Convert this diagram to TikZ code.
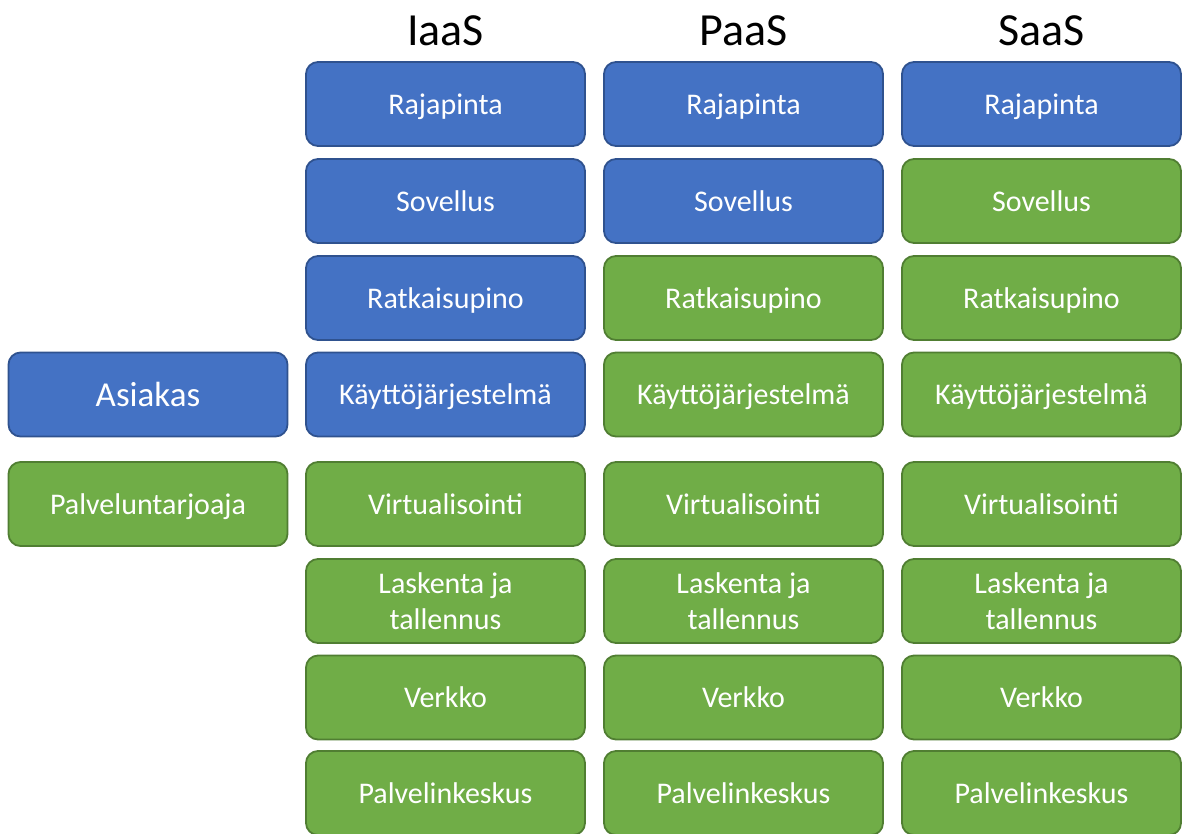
\documentclass[tikz,border=0pt]{standalone}
\usepackage{fontspec}
\setmainfont{Carlito}
\definecolor{bfill}{HTML}{4472C4}
\definecolor{bline}{HTML}{2F528F}
\definecolor{gfill}{HTML}{70AD47}
\definecolor{gline}{HTML}{507E32}
\tikzset{
  tile/.style={rectangle, rounded corners=12pt, line width=1.8pt, minimum width=279pt, minimum height=84pt, inner sep=0pt, text=white, font=\fontsize{30}{36}\selectfont, align=center},
  oneline/.style={text height=20pt, text depth=0pt},
  bluetile/.style={tile, fill=bfill, draw=bline},
  greentile/.style={tile, fill=gfill, draw=gline},
  head/.style={anchor=base, font=\fontsize{46}{50}\selectfont}
}
\begin{document}
\begin{tikzpicture}[x=1pt,y=-1pt]
\useasboundingbox (0,0) rectangle (1186,833);
% headers
\node[head] (hI) at (445.5,45) {IaaS};
\node[head] (hP) at (743.5,45) {PaaS};
\node[head] (hS) at (1041.5,45) {SaaS};
% left legend
\node[bluetile, oneline, text height=23pt, font=\fontsize{35}{40}\selectfont] (asiakas) at (148,394.5) {Asiakas};
\node[greentile, oneline] (palv) at (148,504) {Palveluntarjoaja};
% IaaS
\node[bluetile, oneline] (i1) at (445.5,104) {Rajapinta};
\node[bluetile, oneline] (i2) at (445.5,201) {Sovellus};
\node[bluetile, oneline] (i3) at (445.5,298) {Ratkaisupino};
\node[bluetile, oneline] (i4) at (445.5,394.5) {Käyttöjärjestelmä};
\node[greentile, oneline] (i5) at (445.5,504) {Virtualisointi};
\node[greentile] (i6) at (445.5,601) {Laskenta ja\\tallennus};
\node[greentile, oneline] (i7) at (445.5,697.5) {Verkko};
\node[greentile, oneline] (i8) at (445.5,793) {Palvelinkeskus};
% PaaS
\node[bluetile, oneline] (p1) at (743.5,104) {Rajapinta};
\node[bluetile, oneline] (p2) at (743.5,201) {Sovellus};
\node[greentile, oneline] (p3) at (743.5,298) {Ratkaisupino};
\node[greentile, oneline] (p4) at (743.5,394.5) {Käyttöjärjestelmä};
\node[greentile, oneline] (p5) at (743.5,504) {Virtualisointi};
\node[greentile] (p6) at (743.5,601) {Laskenta ja\\tallennus};
\node[greentile, oneline] (p7) at (743.5,697.5) {Verkko};
\node[greentile, oneline] (p8) at (743.5,793) {Palvelinkeskus};
% SaaS
\node[bluetile, oneline] (s1) at (1041.5,104) {Rajapinta};
\node[greentile, oneline] (s2) at (1041.5,201) {Sovellus};
\node[greentile, oneline] (s3) at (1041.5,298) {Ratkaisupino};
\node[greentile, oneline] (s4) at (1041.5,394.5) {Käyttöjärjestelmä};
\node[greentile, oneline] (s5) at (1041.5,504) {Virtualisointi};
\node[greentile] (s6) at (1041.5,601) {Laskenta ja\\tallennus};
\node[greentile, oneline] (s7) at (1041.5,697.5) {Verkko};
\node[greentile, oneline] (s8) at (1041.5,793) {Palvelinkeskus};
\end{tikzpicture}
\end{document}
